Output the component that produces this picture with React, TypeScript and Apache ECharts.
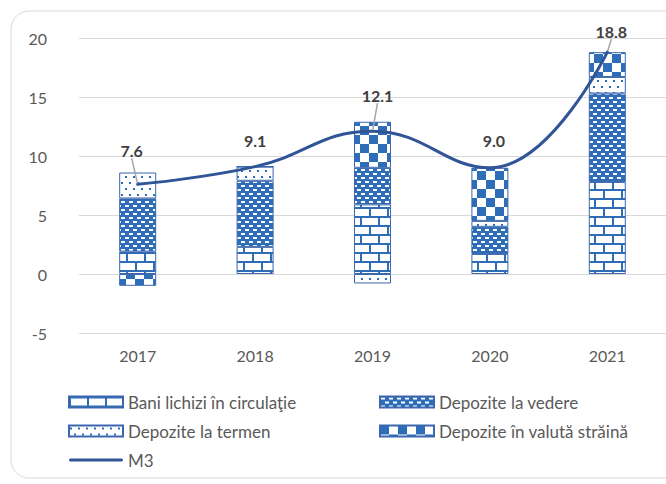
import React, { useEffect, useRef } from 'react';
import * as echarts from 'echarts';

const categories = ['2017', '2018', '2019', '2020', '2021'];
const baniLichizi = [1.9, 2.3, 5.9, 1.7, 7.8];
const depoziteVedere = [4.5, 5.6, 3.1, 2.3, 7.5];
const depoziteTermen = [2.2, 1.2, -0.8, 0.5, 1.4];
const depoziteValuta = [-1.0, 0.0, 3.9, 4.5, 2.1];
const m3 = [7.6, 9.1, 12.1, 9.0, 18.8];
const yMin = -5;
const yMax = 20;
const yInterval = 5;

const seriesNames = [
  'Bani lichizi în circulaţie',
  'Depozite la vedere',
  'Depozite la termen',
  'Depozite în valută străină',
  'M3',
];

// label placement (style only)
const labelDx = [-6, 0, 5, 4, 4];
const labelDy = [-20, -12, -22, -13, -7];
const showLeader = [true, false, true, false, true];

const BLUE = '#2E6DB8';
const BORDER = '#3A67AE';
const FONT = 'Lato, "Open Sans", sans-serif';

function tile(w: number, h: number, draw: (ctx: CanvasRenderingContext2D) => void) {
  const c = document.createElement('canvas');
  c.width = w;
  c.height = h;
  const ctx = c.getContext('2d') as CanvasRenderingContext2D;
  draw(ctx);
  return { image: c, repeat: 'repeat', imageWidth: w, imageHeight: h } as any;
}

function makePatterns() {
  const brick = tile(18, 18, (ctx) => {
    ctx.fillStyle = BLUE;
    ctx.fillRect(0, 0, 18, 18);
    ctx.fillStyle = '#ffffff';
    ctx.fillRect(2, 2, 16, 7);
    ctx.fillRect(11, 11, 7, 7);
    ctx.fillRect(0, 11, 9, 7);
  });
  const dash = tile(8, 8, (ctx) => {
    ctx.fillStyle = BLUE;
    ctx.fillRect(0, 0, 8, 8);
    ctx.fillStyle = '#ffffff';
    ctx.fillRect(1, 1, 4, 2);
    ctx.fillRect(5, 5, 3, 2);
    ctx.fillRect(0, 5, 1, 2);
  });
  const dots = tile(8, 12, (ctx) => {
    ctx.fillStyle = '#ffffff';
    ctx.fillRect(0, 0, 8, 12);
    ctx.fillStyle = BLUE;
    ctx.fillRect(1, 2, 2, 2);
    ctx.fillRect(5, 8, 2, 2);
  });
  const checker = tile(18, 18, (ctx) => {
    ctx.fillStyle = '#ffffff';
    ctx.fillRect(0, 0, 18, 18);
    ctx.fillStyle = BLUE;
    ctx.fillRect(0, 0, 9, 9);
    ctx.fillRect(9, 9, 9, 9);
  });
  return { brick, dash, dots, checker };
}

export default function App() {
  const ref = useRef<HTMLDivElement>(null);

  useEffect(() => {
    document.body.style.margin = '0';
    if (!ref.current) return;
    const chart = echarts.init(ref.current, null, { renderer: 'svg' });
    const p = makePatterns();

    const barBase = {
      type: 'bar',
      stack: 'total',
      barWidth: 37,
    };

    const lineData = m3.map((v, i) => ({
      value: v,
      labelLine: { show: showLeader[i] },
    }));

    const legendText = { color: '#595959', fontSize: 17, fontFamily: FONT, lineHeight: 18 };
    const legendBase = {
      orient: 'vertical',
      top: 393,
      padding: 0,
      itemWidth: 54,
      itemHeight: 11,
      itemGap: 11,
      icon: 'rect',
      textStyle: legendText,
    };

    chart.setOption({
      animation: false,
      backgroundColor: '#ffffff',
      grid: { left: 79, right: -8, top: 38, bottom: 151, containLabel: false },
      xAxis: {
        type: 'category',
        data: categories,
        axisLine: { show: false, onZero: false },
        axisTick: { show: false },
        axisLabel: { color: '#595959', fontSize: 16, fontFamily: FONT, margin: 14 },
      },
      yAxis: {
        type: 'value',
        min: yMin,
        max: yMax,
        interval: yInterval,
        axisLine: { show: false },
        axisTick: { show: false },
        splitLine: { lineStyle: { color: '#D9D9D9', width: 1 } },
        axisLabel: { color: '#595959', fontSize: 16, fontFamily: FONT, margin: 32 },
      },
      legend: [
        {
          ...legendBase,
          left: 68,
          data: [
            seriesNames[0],
            seriesNames[2],
            { name: seriesNames[4], icon: 'path://M1.5,0L52.5,0A1.5,1.5,0,0,1,52.5,3L1.5,3A1.5,1.5,0,0,1,1.5,0Z' },
          ],
        },
        {
          ...legendBase,
          left: 379,
          data: [seriesNames[1], seriesNames[3]],
        },
      ],
      graphic: [
        {
          type: 'rect',
          shape: { x: 11, y: 11, width: 720, height: 467, r: 18 },
          style: { fill: 'none', stroke: '#D9D9D9', lineWidth: 1 },
          silent: true,
          z: -10,
        },
      ],
      series: [
        {
          ...barBase,
          name: seriesNames[0],
          data: baniLichizi,
          itemStyle: { color: p.brick, borderColor: BORDER, borderWidth: 1 },
        },
        {
          ...barBase,
          name: seriesNames[1],
          data: depoziteVedere,
          itemStyle: { color: p.dash, borderColor: BORDER, borderWidth: 1 },
        },
        {
          ...barBase,
          name: seriesNames[2],
          data: depoziteTermen,
          itemStyle: { color: p.dots, borderColor: BORDER, borderWidth: 1 },
        },
        {
          ...barBase,
          name: seriesNames[3],
          data: depoziteValuta,
          itemStyle: { color: p.checker, borderColor: BORDER, borderWidth: 1 },
        },
        {
          name: seriesNames[4],
          type: 'line',
          data: lineData,
          smooth: 0.45,
          symbol: 'circle',
          symbolSize: 2,
          showSymbol: true,
          z: 5,
          lineStyle: { color: '#2F5597', width: 3, cap: 'round' },
          itemStyle: { color: '#2F5597' },
          label: {
            show: true,
            position: 'top',
            fontWeight: 'bold',
            fontSize: 16,
            color: '#404040',
            fontFamily: FONT,
            formatter: (params: any) => Number(params.value).toFixed(1),
          },
          labelLayout: (params: any) => ({
            dx: labelDx[params.dataIndex],
            dy: labelDy[params.dataIndex],
          }),
          labelLine: { show: true, lineStyle: { color: '#A6A6A6', width: 1.5 } },
        },
      ],
    });

    return () => chart.dispose();
  }, []);

  return <div ref={ref} style={{ width: 666, height: 484 }} />;
}
